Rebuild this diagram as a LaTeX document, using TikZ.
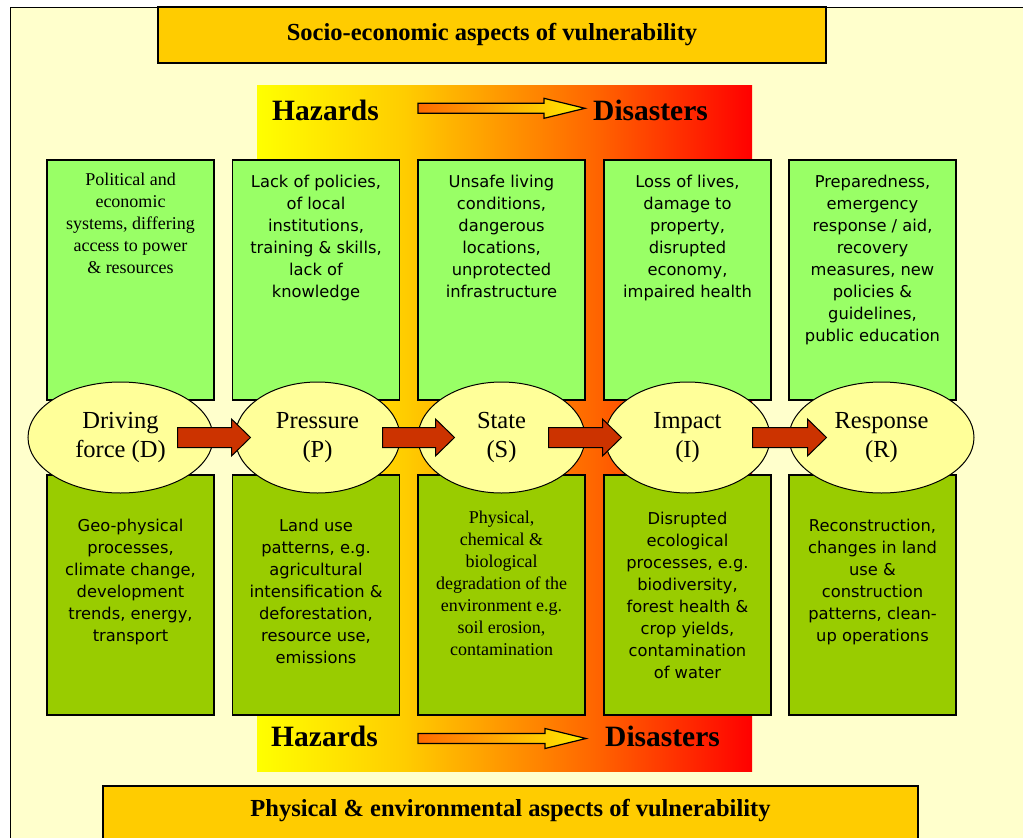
\documentclass[tikz,border=0pt]{standalone}
\usepackage{fontspec}
\setmainfont{Liberation Serif}
\newfontfamily\sansbox{DejaVu Sans}
\usetikzlibrary{calc,shapes.geometric}

\definecolor{paper}{HTML}{FFFFCC}
\definecolor{bannerfill}{HTML}{FFCC00}
\definecolor{upgreen}{HTML}{99FF66}
\definecolor{lowgreen}{HTML}{99CC00}
\definecolor{stagefill}{HTML}{FFFF99}
\definecolor{flowred}{HTML}{CC3300}
\definecolor{hzY}{HTML}{FFFF00}
\definecolor{hzG}{HTML}{FFCC00}
\definecolor{hzO}{HTML}{FF6600}
\definecolor{hzR}{HTML}{FF0000}
\definecolor{hoA}{HTML}{FF6A00}
\definecolor{hoB}{HTML}{FFEE00}

% hazard-to-disaster band: yellow -> gold -> orange -> red
\pgfdeclarehorizontalshading{hazshade}{100bp}{color(0bp)=(hzY); color(25bp)=(hzY); color(40bp)=(hzG); color(59bp)=(hzO); color(75bp)=(hzR); color(100bp)=(hzR)}

% fixed first-line height so text blocks start at a known baseline
\newcommand\fl{\rule{0pt}{14pt}}

\tikzset{
  banner/.style={draw=black, line width=1.2pt, fill=bannerfill, inner sep=0pt,
    font=\bfseries\fontsize{24.5}{28}\selectfont},
  bannerlabel/.style={inner sep=0pt, font=\bfseries\fontsize{24.5}{28}\selectfont},
  upperbox/.style={draw=black, line width=1.2pt, fill=upgreen, minimum width=167pt, minimum height=240pt, inner sep=0pt},
  lowerbox/.style={draw=black, line width=1.2pt, fill=lowgreen, minimum width=167pt, minimum height=240pt, inner sep=0pt},
  txtsans/.style={anchor=north, inner sep=0pt, align=center, font=\sansbox\fontsize{16.3}{22}\selectfont},
  txtserif/.style={anchor=north, inner sep=0pt, align=center, font=\fontsize{18}{22}\selectfont},
  stage/.style={ellipse, draw=black, line width=1pt, fill=stagefill, inner sep=0pt,
    minimum height=111pt, align=center, font=\fontsize{24.5}{28.5}\selectfont},
  flowarrow/.style={draw=black, line width=1pt, fill=flowred, line join=miter},
  hazlabel/.style={inner sep=0pt, anchor=base west, font=\bfseries\fontsize{29.5}{32}\selectfont},
  hollowarrow/.style={draw=black, line width=1.2pt, left color=hoA, right color=hoB, line join=miter}
}

% block arrow between two stages: #1 tail coordinate, #2 tip coordinate
\newcommand\blockarrow[2]{%
  \draw[flowarrow] ($(#1)+(0,-10)$) -- ($(#2)+(-19,-10)$) -- ($(#2)+(-19,-18.5)$) -- (#2)
    -- ($(#2)+(-19,18.5)$) -- ($(#2)+(-19,10)$) -- ($(#1)+(0,10)$) -- cycle;}
% outlined arrow from hazards to disasters
\newcommand\hazarrow[2]{%
  \shadedraw[hollowarrow] ($(#1)+(0,-5)$) -- ($(#2)+(-41,-5)$) -- ($(#2)+(-41,-10)$) -- (#2)
    -- ($(#2)+(-41,10)$) -- ($(#2)+(-41,5)$) -- ($(#1)+(0,5)$) -- cycle;}

\begin{document}
\begin{tikzpicture}[x=1pt,y=-1pt]
\useasboundingbox (0,0) rectangle (1023,838);
\fill[white] (0,0) rectangle (1023,838);
\draw[fill=paper, line width=1pt] (10,7) rectangle (1040,860);

% banners
\node[banner, minimum width=668pt, minimum height=56pt] (socio) at (492,35) {Socio-economic aspects of vulnerability};
\node[banner, minimum width=815pt, minimum height=80pt] (physbox) at (510.5,826) {};
\node[bannerlabel] (phys) at (510.5,811) {Physical \& environmental aspects of vulnerability};

% colour band behind the middle columns
\shade[shading=hazshade] (257,85) rectangle (752,771);

% column boxes
\foreach \n/\cx in {1/130.5, 2/316, 3/501.5, 4/687.5, 5/872.5} {
  \node[upperbox] (up\n) at (\cx,280) {};
  \node[lowerbox] (low\n) at (\cx,595) {};
}

% upper texts
\node[txtserif] (up1t) at (130.5,171.5) {\fl Political and\\economic\\systems, differing\\access to power\\\& resources};
\node[txtsans] (up2t) at (316,173) {\fl Lack of policies,\\of local\\institutions,\\training \& skills,\\lack of\\knowledge};
\node[txtsans] (up3t) at (501.5,173) {\fl Unsafe living\\conditions,\\dangerous\\locations,\\unprotected\\infrastructure};
\node[txtsans] (up4t) at (687.5,173) {\fl Loss of lives,\\damage to\\property,\\disrupted\\economy,\\impaired health};
\node[txtsans] (up5t) at (872.5,173) {\fl Preparedness,\\emergency\\response / aid,\\recovery\\measures, new\\policies \&\\guidelines,\\public education};

% lower texts
\node[txtsans] (low1t) at (130.5,517) {\fl Geo-physical\\processes,\\climate change,\\development\\trends, energy,\\transport};
\node[txtsans] (low2t) at (316,517) {\fl Land use\\patterns, e.g.\\agricultural\\intensification \&\\deforestation,\\resource use,\\emissions};
\node[txtserif] (low3t) at (501.5,509) {\fl Physical,\\chemical \&\\biological\\degradation of the\\environment e.g.\\soil erosion,\\contamination};
\node[txtsans] (low4t) at (687.5,510) {\fl Disrupted\\ecological\\processes, e.g.\\biodiversity,\\forest health \&\\crop yields,\\contamination\\of water};
\node[txtsans] (low5t) at (872.5,517) {\fl Reconstruction,\\changes in land\\use \&\\construction\\patterns, clean-\\up operations};

% DPSIR stages
\node[stage, minimum width=185pt] (D) at (120.5,437.5) {Driving\\force (D)};
\node[stage, minimum width=165pt] (P) at (317.5,437.5) {Pressure\\(P)};
\node[stage, minimum width=167pt] (S) at (501.5,437.5) {State\\(S)};
\node[stage, minimum width=165pt] (I) at (687.5,437.5) {Impact\\(I)};
\node[stage, minimum width=185pt] (R) at (881.5,437.5) {Response\\(R)};

\coordinate (a1s) at ($(D.east)+(-36,0)$);
\coordinate (a1e) at ($(P.west)+(16,0)$);
\coordinate (a2s) at ($(P.east)+(-18,0)$);
\coordinate (a2e) at ($(S.west)+(37,0)$);
\coordinate (a3s) at ($(S.east)+(-37,0)$);
\coordinate (a3e) at ($(I.west)+(17,0)$);
\coordinate (a4s) at ($(I.east)+(-18,0)$);
\coordinate (a4e) at ($(R.west)+(38,0)$);
\blockarrow{a1s}{a1e}
\blockarrow{a2s}{a2e}
\blockarrow{a3s}{a3e}
\blockarrow{a4s}{a4e}

% hazards -> disasters, top and bottom
\node[hazlabel] (hazU) at (272,120.5) {Hazards};
\node[hazlabel] (disU) at (593,120.5) {Disasters};
\coordinate (hu1) at (418,108.3);
\coordinate (hu2) at (585,108.3);
\hazarrow{hu1}{hu2}

\node[hazlabel] (hazL) at (271,746.5) {Hazards};
\node[hazlabel] (disL) at (605,746.5) {Disasters};
\coordinate (hl1) at (418,738.5);
\coordinate (hl2) at (586,738.5);
\hazarrow{hl1}{hl2}
\end{tikzpicture}
\end{document}
